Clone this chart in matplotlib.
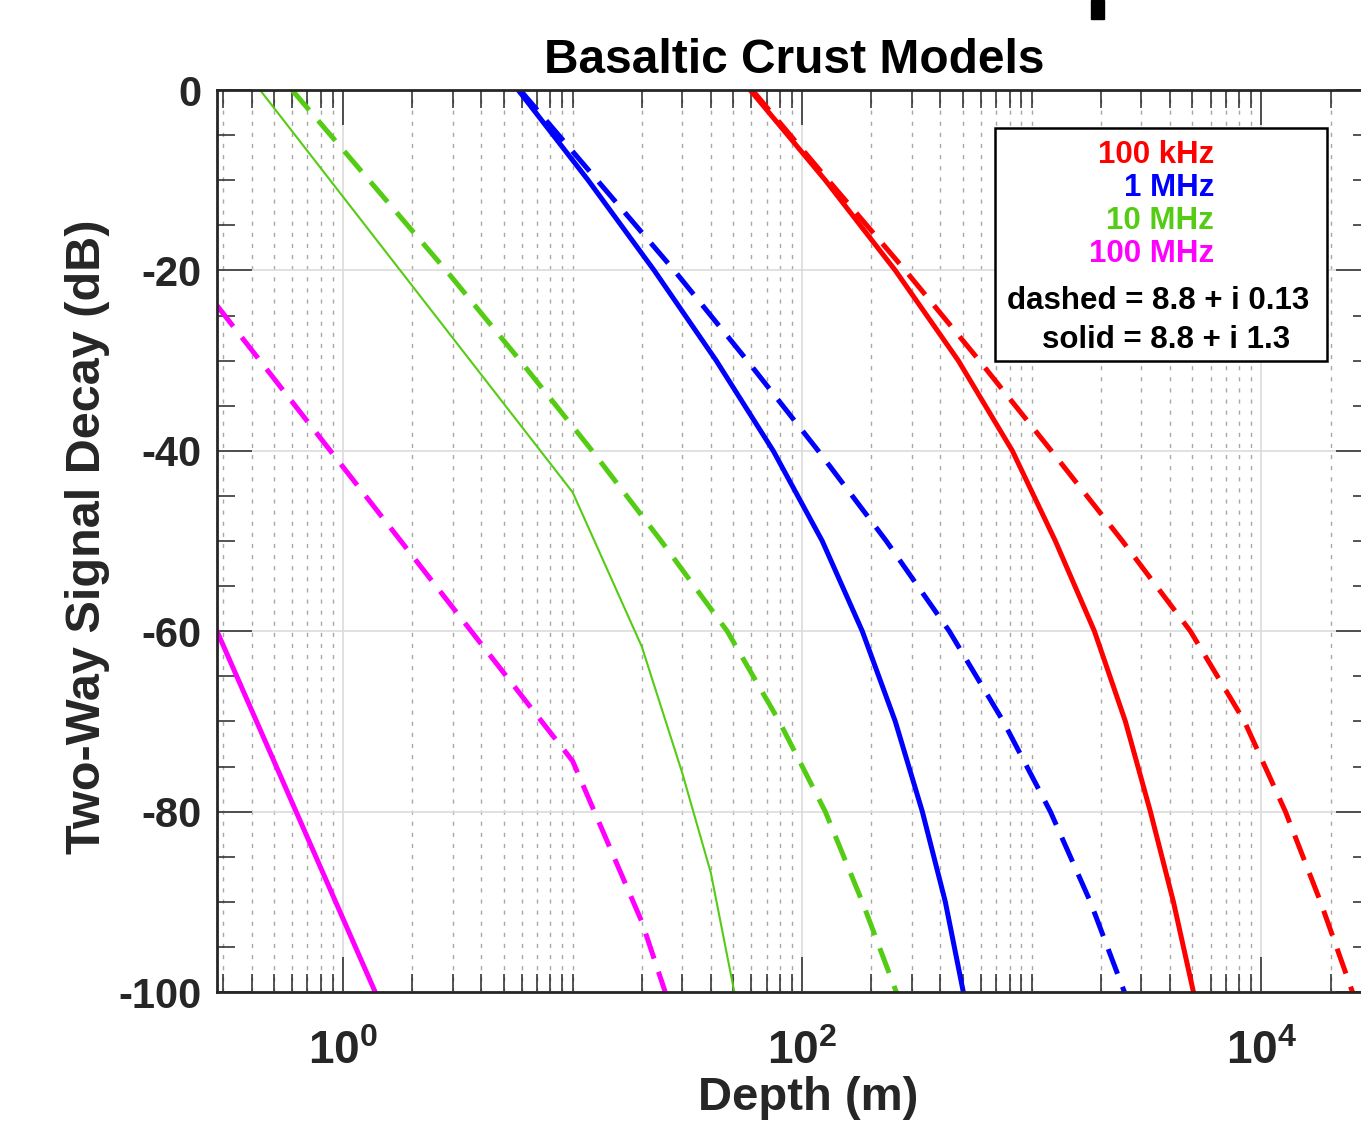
import matplotlib
matplotlib.use("Agg")
import matplotlib.pyplot as plt
from matplotlib.patches import Rectangle

plt.rcParams['font.family'] = ['Liberation Sans', 'DejaVu Sans']
plt.rcParams['font.weight'] = 'bold'
plt.rcParams['mathtext.fontset'] = 'custom'
plt.rcParams['mathtext.bf'] = 'Liberation Sans:bold'
plt.rcParams['mathtext.rm'] = 'Liberation Sans:bold'
plt.rcParams['mathtext.default'] = 'bf'
plt.rcParams['lines.scale_dashes'] = False

# ---- data (depth in m, decay in dB) ----
db_levels = [0, -10, -20, -30, -40, -50, -60, -70, -80, -90, -100]

red_solid_depth   = [59.3, 126.0, 254.2, 478.3, 822.3, 1266, 1873, 2555, 3283, 4136, 5055]
red_dashed_depth  = [60.55, 129.8, 281.0, 590.5, 1216, 2480, 4904, 8433, 12720, 18080, 24910]
blue_solid_depth  = [5.79, 11.68, 22.65, 42.2, 74.75, 122.2, 182.6, 254.2, 333.4, 419.9, 502.9]
blue_dashed_depth = [5.905, 12.79, 27.69, 57.6, 117.4, 232.3, 437.0, 751.1, 1204, 1798, 2530]
green_dashed_depth = [0.5995, 1.298, 2.811, 5.905, 12.16, 24.30, 47.13, 79.4, 126.0, 182.6, 256.8]

green_solid_depth = [0.435, 10, 20, 30, 40, 50.6]
green_solid_db    = [0, -44.6, -61.7, -75.7, -86.8, -100]

magenta_dashed_depth = [0.2825, 10, 20, 25.3]
magenta_dashed_db    = [-23.9, -74.4, -92.2, -100]

magenta_solid_depth = [0.2825, 1.38]
magenta_solid_db    = [-60, -100]

legend_labels = ["100 kHz", "1 MHz", "10 MHz", "100 MHz"]
legend_notes  = ["dashed = 8.8 + i 0.13", "solid = 8.8 + i 1.3"]

RED, BLUE, GREEN, MAGENTA = "#ff0000", "#0000ff", "#55cc14", "#ff00ff"
DASH = (0, (19, 10))

fig = plt.figure(figsize=(13.61, 11.22), dpi=100)
# axes run off the right edge, as in the cropped reference
ax = fig.add_axes([217 / 1361, 1 - 992 / 1122, 1154 / 1361, 902 / 1122])
ax.set_xscale("log")

ax.plot(red_solid_depth, db_levels, color=RED, lw=3.6)
ax.plot(red_dashed_depth, db_levels, color=RED, lw=3.6, ls=DASH)
ax.plot(blue_solid_depth, db_levels, color=BLUE, lw=3.6)
ax.plot(blue_dashed_depth, db_levels, color=BLUE, lw=3.6, ls=DASH)
ax.plot(green_solid_depth, green_solid_db, color=GREEN, lw=1.5)
ax.plot(green_dashed_depth, db_levels, color=GREEN, lw=3.6, ls=DASH)
ax.plot(magenta_solid_depth, magenta_solid_db, color=MAGENTA, lw=3.6)
ax.plot(magenta_dashed_depth, magenta_dashed_db, color=MAGENTA, lw=3.6, ls=DASH)

# ticks
major_x = [1, 100, 10000]
minor_x = [k * 10.0 ** n for n in range(-1, 5) for k in range(1, 10)
           if k * 10.0 ** n not in major_x]
ax.set_xticks(major_x)
ax.set_xticklabels([r"$\mathbf{10^{0}}$", r"$\mathbf{10^{2}}$", r"$\mathbf{10^{4}}$"])
ax.set_xticks(minor_x, minor=True)
ax.xaxis.set_minor_formatter(plt.NullFormatter())

ax.set_yticks(list(range(-100, 1, 20)))
ax.set_yticklabels([str(v) for v in range(-100, 1, 20)])
ax.set_yticks(list(range(-100, 1, 5)), minor=True)

ax.set_xlim(0.2825, 3.0e4)
ax.set_ylim(-100, 0)

ax.tick_params(which="both", direction="in", top=True, right=True,
               color="#262626", width=1.1)
ax.tick_params(which="major", length=25)
ax.tick_params(which="minor", length=13)
ax.tick_params(axis="y", labelsize=30, pad=11, colors="#262626")
ax.tick_params(axis="x", labelsize=33, pad=27, colors="#262626")

ax.grid(True, which="major", color="#dcdcdc", lw=1.2, ls="-")
ax.grid(True, which="minor", axis="x", color="#a8a8a8", lw=1.0, ls=(0, (3, 5)))
ax.set_axisbelow(True)

for s in ax.spines.values():
    s.set_color("#262626")
    s.set_linewidth(2)

ax.set_title("Basaltic Crust Models", fontsize=34.5, fontweight="bold", pad=12)
ax.set_xlabel("Depth (m)", fontsize=34, fontweight="bold", color="#262626")
ax.set_ylabel("Two-Way Signal Decay (dB)", fontsize=35, fontweight="bold", color="#262626")
ax.xaxis.set_label_coords(0.512, -0.093)
ax.yaxis.set_label_coords(-0.093, 0.505)

# text box legend
ax.add_patch(Rectangle((0.674, 0.70), 0.288, 0.258, transform=ax.transAxes,
                       facecolor="white", edgecolor="black", lw=1.8, zorder=5))
for label, color, y in zip(legend_labels, [RED, BLUE, GREEN, MAGENTA],
                           [0.928, 0.891, 0.855, 0.818]):
    ax.text(0.864, y, label, color=color, fontsize=22.5, fontweight="bold",
            ha="right", va="center", transform=ax.transAxes, zorder=6)
ax.text(0.8154, 0.766, legend_notes[0], fontsize=22.5, fontweight="bold",
        ha="center", va="center", transform=ax.transAxes, zorder=6)
ax.text(0.8224, 0.723, legend_notes[1], fontsize=22.5, fontweight="bold",
        ha="center", va="center", transform=ax.transAxes, zorder=6)

# stray mark from the neighbouring panel at the top edge
fig.patches.append(Rectangle((1091 / 1361, 1 - 19 / 1122), 13 / 1361, 19 / 1122,
                             transform=fig.transFigure, color="black"))

fig.savefig("out.png", dpi=100)
